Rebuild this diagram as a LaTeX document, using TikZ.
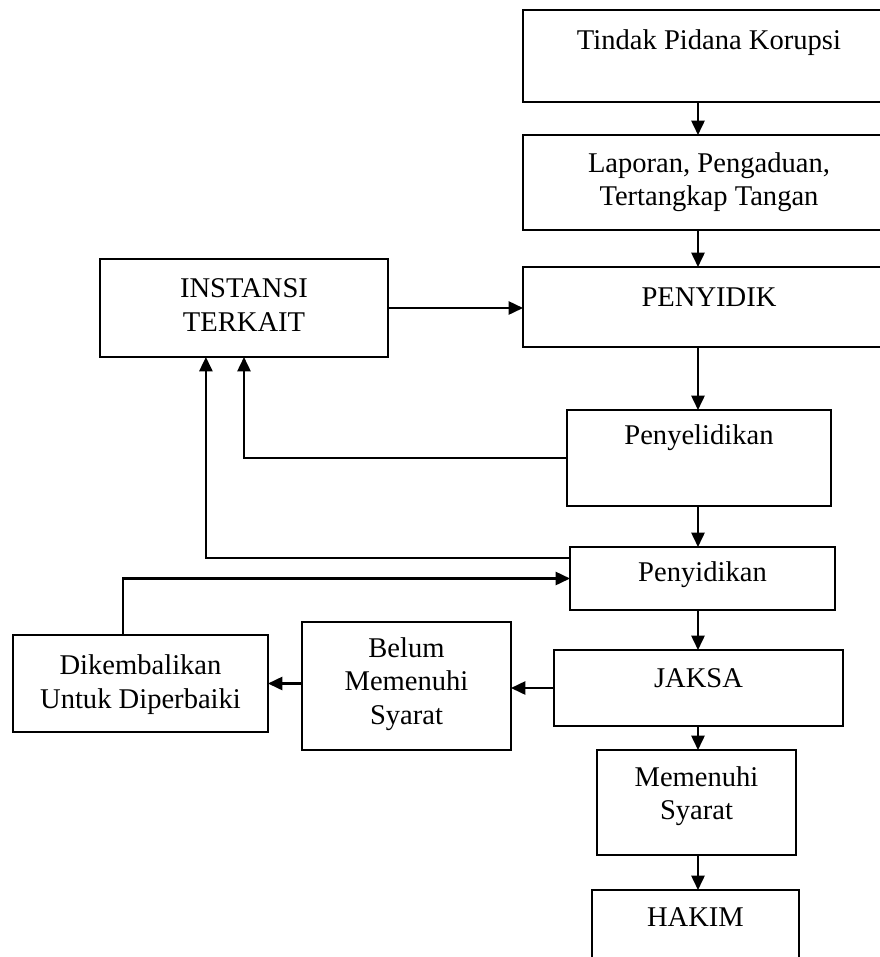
\documentclass[tikz,border=0pt]{standalone}
\usepackage{fontspec}
\setmainfont{Liberation Serif}
\usetikzlibrary{arrows.meta}

\begin{document}
\begin{tikzpicture}[
    x=0.42pt, y=-0.42pt,
    font=\fontsize{12}{14}\selectfont,
    box/.style={draw, rectangle, line width=0.9pt, outer sep=0pt, inner sep=0pt},
    sz/.style 2 args={minimum width=#1*0.42pt, minimum height=#2*0.42pt},
    txt/.style={align=center, inner sep=0pt},
    arrow/.style={-{Triangle[length=6pt, width=5.5pt]}, line width=0.9pt}
    ]

    \clip (0,0) rectangle (880,957);

    % boxes
    \node[box, sz={372}{92}] (korupsi) at (709,56) {};
    \node[box, sz={372}{95}] (laporan) at (709,182.5) {};
    \node[box, sz={372}{80}] (penyidik) at (709,307) {};
    \node[box, sz={288}{98}] (instansi) at (244,308) {};
    \node[box, sz={264}{96}] (penyelidikan) at (699,458) {};
    \node[box, sz={265}{63}] (penyidikan) at (702.5,578.5) {};
    \node[box, sz={289}{76}] (jaksa) at (698.5,688) {};
    \node[box, sz={209}{128}] (belum) at (406.5,686) {};
    \node[box, sz={255}{97}] (kembali) at (140.5,683.5) {};
    \node[box, sz={199}{105}] (memenuhi) at (696.5,802.5) {};
    \node[box, sz={207}{110}] (hakim) at (695.5,945) {};

    % texts
    \node[txt] (korupsi-t) at (709,43) {Tindak Pidana Korupsi};
    \node[txt] (laporan-t) at (709,182) {Laporan, Pengaduan,\\Tertangkap Tangan};
    \node[txt] (penyidik-t) at (709,297) {PENYIDIK};
    \node[txt] (instansi-t) at (244,305) {INSTANSI\\TERKAIT};
    \node[txt] (penyelidikan-t) at (699,438) {Penyelidikan};
    \node[txt] (penyidikan-t) at (702.5,575) {Penyidikan};
    \node[txt] (jaksa-t) at (698.5,678) {JAKSA};
    \node[txt] (belum-t) at (406.5,684) {Belum\\Memenuhi\\Syarat};
    \node[txt] (kembali-t) at (140.5,684.5) {Dikembalikan\\Untuk Diperbaiki};
    \node[txt] (memenuhi-t) at (696.5,796) {Memenuhi\\Syarat};
    \node[txt] (hakim-t) at (695.5,917) {HAKIM};

    \coordinate (spine) at (698,0);

    % main line
    \draw[arrow] (korupsi.south -| spine) -- (laporan.north -| spine);
    \draw[arrow] (laporan.south -| spine) -- (penyidik.north -| spine);
    \draw[arrow] (penyidik.south -| spine) -- (penyelidikan.north -| spine);
    \draw[arrow] (penyelidikan.south -| spine) -- (penyidikan.north -| spine);
    \draw[arrow] (penyidikan.south -| spine) -- (jaksa.north -| spine);
    \draw[arrow] (jaksa.south -| spine) -- (memenuhi.north -| spine);
    \draw[arrow] (memenuhi.south -| spine) -- (hakim.north -| spine);

    % side lines
    \draw[arrow] (instansi.east) -- (instansi.east -| penyidik.west);
    \draw[arrow] (penyelidikan.west) -| (instansi.south);
    \draw[arrow] ([yshift=-4.6pt]penyidikan.north west) -| ([xshift=-16pt]instansi.south);
    \draw[arrow] (jaksa.west) -- (jaksa.west -| belum.east);
    \draw[arrow] (belum.west |- kembali.east) -- (kembali.east);
    \draw[arrow] ([xshift=-7.3pt]kembali.north) |- (penyidikan.west);

\end{tikzpicture}
\end{document}
